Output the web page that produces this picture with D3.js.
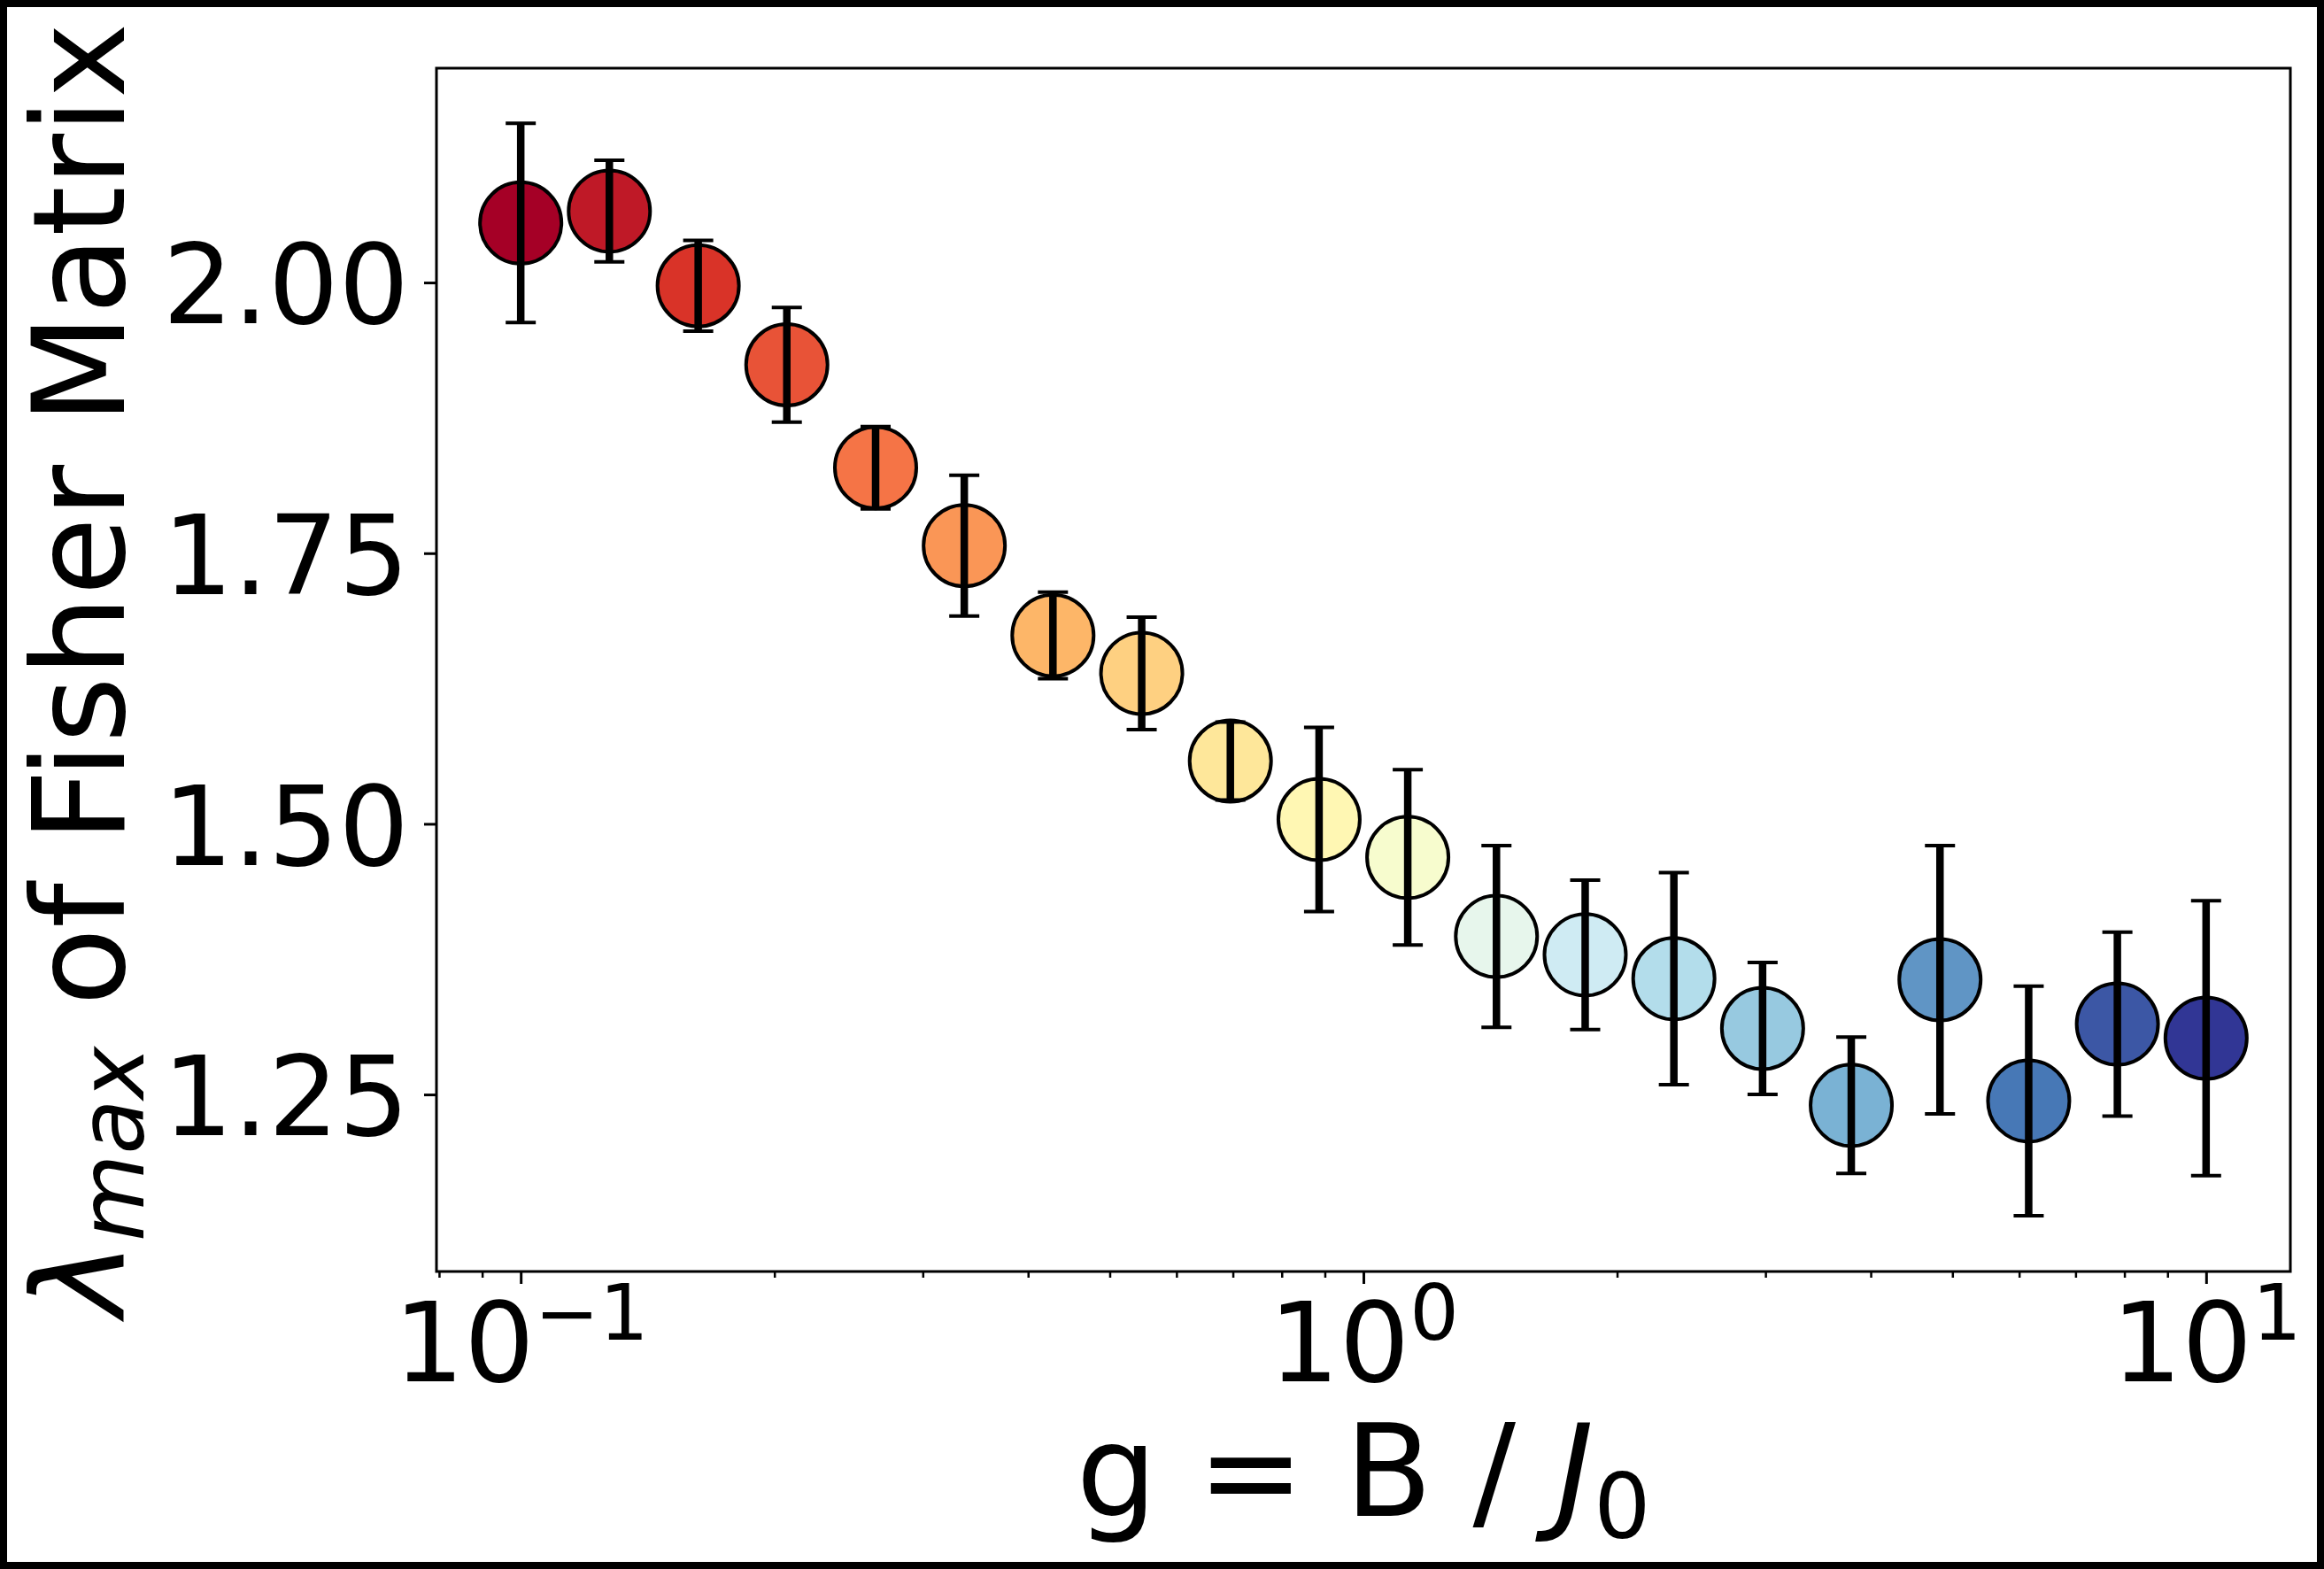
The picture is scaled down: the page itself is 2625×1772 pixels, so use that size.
<!DOCTYPE html>
<html>
<head>
<meta charset="utf-8">
<script src="https://cdn.jsdelivr.net/npm/d3@7/dist/d3.min.js"></script>
<style>
  body { margin: 0; background: #fff; }
  svg { display: block; }
</style>
</head>
<body>
<div id="chart"></div>
<script>
const width = 2625;
const height = 1772;
const margin = { top: 77, right: 38, bottom: 336, left: 493 };

// data
const gValues = [0.1, 0.1274, 0.1624, 0.2069, 0.2637, 0.3360, 0.4281, 0.5456, 0.6952, 0.8859,
                 1.1288, 1.4384, 1.8330, 2.3357, 2.9764, 3.7927, 4.8329, 6.1585, 7.8476, 10.0];
const lambdaMax = [2.055, 2.066, 1.997, 1.924, 1.829, 1.757, 1.674, 1.639, 1.558, 1.504,
                   1.469, 1.396, 1.379, 1.357, 1.311, 1.240, 1.356, 1.244, 1.315, 1.302];
const lambdaErr = [0.092, 0.047, 0.042, 0.053, 0.038, 0.065, 0.040, 0.052, 0.036, 0.085,
                   0.081, 0.084, 0.069, 0.098, 0.061, 0.063, 0.124, 0.106, 0.085, 0.127];

const yTicks = [1.25, 1.50, 1.75, 2.00];
const xMajorTicks = [0.1, 1, 10];
const xMajorLabels = [["10", "\u22121"], ["10", "0"], ["10", "1"]];
const xMinorTicks = [0.08, 0.09, 0.2, 0.3, 0.4, 0.5, 0.6, 0.7, 0.8, 0.9, 2, 3, 4, 5, 6, 7, 8, 9];

// matplotlib RdYlBu anchors
const rdylbu = ["#a50026", "#d73027", "#f46d43", "#fdae61", "#fee090", "#ffffbf",
                "#e0f3f8", "#abd9e9", "#74add1", "#4575b4", "#313695"];

const data = gValues.map((g, i) => ({ g: g, v: lambdaMax[i], e: lambdaErr[i], i: i }));

const xScale = d3.scaleLog()
  .domain([Math.pow(10, -1.1), Math.pow(10, 1.1)])
  .range([margin.left, width - margin.right]);

const yScale = d3.scaleLinear()
  .domain([1.0865, 2.198])
  .range([height - margin.bottom, margin.top]);

const colorScale = d3.scaleLinear()
  .domain(d3.range(rdylbu.length).map(k => k / (rdylbu.length - 1)))
  .range(rdylbu)
  .interpolate(d3.interpolateRgb);

const svg = d3.select("#chart")
  .append("svg")
  .attr("width", width)
  .attr("height", height)
  .style("font-family", "'DejaVu Sans', sans-serif");

svg.append("rect")
  .attr("width", width)
  .attr("height", height)
  .attr("fill", "#fff");

// figure border
svg.append("rect")
  .attr("x", 4)
  .attr("y", 4)
  .attr("width", width - 8)
  .attr("height", height - 8)
  .attr("fill", "none")
  .attr("stroke", "#000")
  .attr("stroke-width", 8);

// minor x ticks
const xMinorAxis = d3.axisBottom(xScale)
  .tickValues(xMinorTicks)
  .tickSize(7)
  .tickFormat(() => "");

svg.append("g")
  .attr("transform", `translate(0, ${height - margin.bottom})`)
  .call(xMinorAxis)
  .call(g => g.select(".domain").remove())
  .call(g => g.selectAll(".tick line").attr("stroke-width", 2.5));

// major x ticks with 10^n labels
const xAxis = d3.axisBottom(xScale)
  .tickValues(xMajorTicks)
  .tickSize(14)
  .tickFormat(() => "");

const xAxisGroup = svg.append("g")
  .attr("transform", `translate(0, ${height - margin.bottom})`)
  .call(xAxis)
  .call(g => g.select(".domain").remove())
  .call(g => g.selectAll(".tick line").attr("stroke-width", 3));

xAxisGroup.selectAll(".tick text")
  .attr("y", 124)
  .attr("dy", null)
  .attr("fill", "#000")
  .attr("font-size", 125)
  .attr("font-family", "'DejaVu Sans', sans-serif")
  .each(function(d, i) {
    const t = d3.select(this);
    t.append("tspan").text(xMajorLabels[i][0]);
    t.append("tspan")
      .attr("dy", -47)
      .attr("font-size", 87.5)
      .text(xMajorLabels[i][1]);
  });

// y axis
const yAxis = d3.axisLeft(yScale)
  .tickValues(yTicks)
  .tickSize(14)
  .tickPadding(17)
  .tickFormat(d3.format(".2f"));

svg.append("g")
  .attr("transform", `translate(${margin.left}, 0)`)
  .call(yAxis)
  .call(g => g.select(".domain").remove())
  .call(g => g.selectAll(".tick line").attr("stroke-width", 3))
  .call(g => g.selectAll(".tick text")
    .attr("dy", "0.365em")
    .attr("fill", "#000")
    .attr("font-size", 125)
    .attr("font-family", "'DejaVu Sans', sans-serif"));

// plot frame
svg.append("rect")
  .attr("x", margin.left)
  .attr("y", margin.top)
  .attr("width", width - margin.left - margin.right)
  .attr("height", height - margin.top - margin.bottom)
  .attr("fill", "none")
  .attr("stroke", "#000")
  .attr("stroke-width", 3);

// markers
svg.append("g")
  .selectAll("circle")
  .data(data)
  .join("circle")
  .attr("cx", d => xScale(d.g))
  .attr("cy", d => yScale(d.v))
  .attr("r", 46)
  .attr("fill", d => colorScale(d.i / (data.length - 1)))
  .attr("stroke", "#000")
  .attr("stroke-width", 4);

// error bars on top
const errG = svg.append("g").attr("stroke", "#000");

errG.selectAll("line.bar")
  .data(data)
  .join("line")
  .attr("class", "bar")
  .attr("x1", d => xScale(d.g))
  .attr("x2", d => xScale(d.g))
  .attr("y1", d => yScale(d.v + d.e))
  .attr("y2", d => yScale(d.v - d.e))
  .attr("stroke-width", 8.5);

errG.selectAll("line.capTop")
  .data(data)
  .join("line")
  .attr("class", "capTop")
  .attr("x1", d => xScale(d.g) - 17)
  .attr("x2", d => xScale(d.g) + 17)
  .attr("y1", d => yScale(d.v + d.e))
  .attr("y2", d => yScale(d.v + d.e))
  .attr("stroke-width", 4);

errG.selectAll("line.capBot")
  .data(data)
  .join("line")
  .attr("class", "capBot")
  .attr("x1", d => xScale(d.g) - 17)
  .attr("x2", d => xScale(d.g) + 17)
  .attr("y1", d => yScale(d.v - d.e))
  .attr("y2", d => yScale(d.v - d.e))
  .attr("stroke-width", 4);

// axis titles
const xTitle = svg.append("text")
  .attr("x", (margin.left + width - margin.right) / 2)
  .attr("y", 1712)
  .attr("text-anchor", "middle")
  .attr("font-size", 144)
  .attr("fill", "#000");
xTitle.append("tspan").text("g = B / ");
xTitle.append("tspan").attr("font-style", "italic").text("J");
xTitle.append("tspan").attr("font-size", 101).attr("dy", 25).text("0");

const yTitle = svg.append("text")
  .attr("transform", `translate(140, ${(margin.top + height - margin.bottom) / 2}) rotate(-90)`)
  .attr("text-anchor", "middle")
  .attr("font-size", 144)
  .attr("fill", "#000");
yTitle.append("tspan").attr("font-style", "italic").text("\u03bb");
yTitle.append("tspan").attr("font-style", "italic").attr("font-size", 101).attr("dy", 22).text("max");
yTitle.append("tspan").attr("dy", -22).text(" of Fisher Matrix");
</script>
</body>
</html>
